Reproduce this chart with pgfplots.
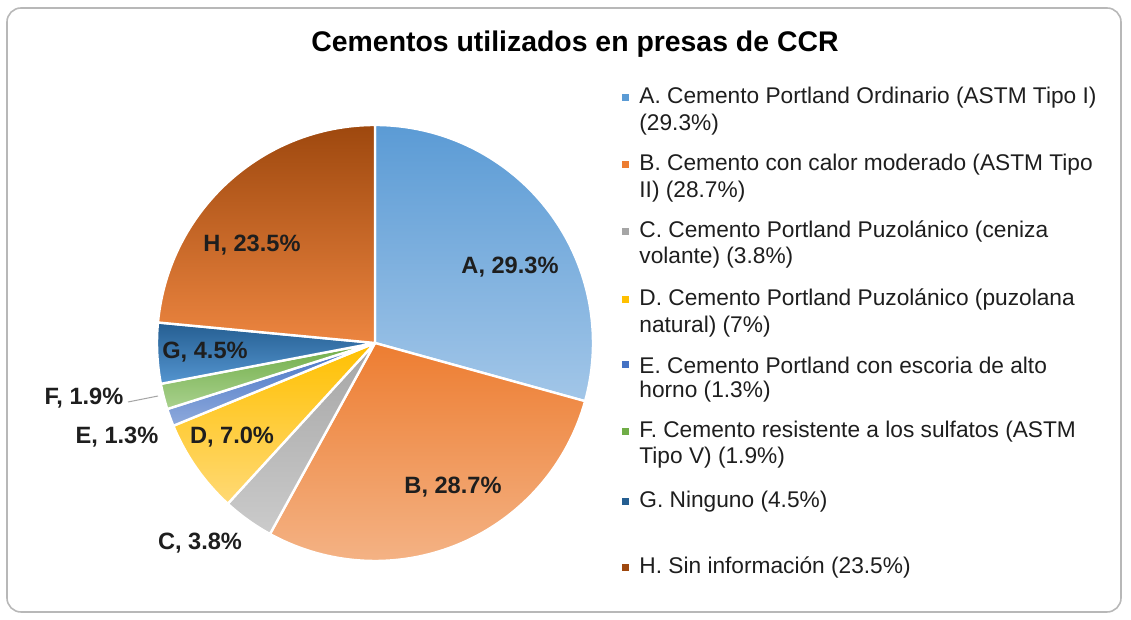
\documentclass[border=0pt]{standalone}
\usepackage{pgfplots}
\pgfplotsset{compat=1.18}
\usepackage{pgfplotstable}
\usepackage{fontspec}
\setmainfont{Liberation Sans}

% slice colours: top and bottom of each gradient
\definecolor{topA}{HTML}{5B9BD5}\definecolor{botA}{HTML}{A2C6E8}
\definecolor{topB}{HTML}{ED7D31}\definecolor{botB}{HTML}{F4B487}
\definecolor{topC}{HTML}{A5A5A5}\definecolor{botC}{HTML}{CBCBCB}
\definecolor{topD}{HTML}{FFC000}\definecolor{botD}{HTML}{FFD975}
\definecolor{topE}{HTML}{4472C4}\definecolor{botE}{HTML}{8FAADC}
\definecolor{topF}{HTML}{70AD47}\definecolor{botF}{HTML}{A9D18E}
\definecolor{topG}{HTML}{255E91}\definecolor{botG}{HTML}{5495D0}
\definecolor{topH}{HTML}{9E480E}\definecolor{botH}{HTML}{EC8540}
\definecolor{txt}{HTML}{1E1E1E}

\pgfplotstableread{
lab val
A 29.3
B 28.7
C 3.8
D 7.0
E 1.3
F 1.9
G 4.5
H 23.5
}\piedata

\begin{document}
\begin{tikzpicture}
\begin{axis}[
    width=565.5pt, height=310pt, scale only axis,
    xmin=0, xmax=1131, ymin=0, ymax=620,
    hide axis, clip=false,
  ]
  \path (axis cs:0,0) rectangle (axis cs:1131,620);
  \draw[black!28, line width=0.8pt, rounded corners=7pt]
    (axis cs:7,8) rectangle (axis cs:1121,612);

  \node[font=\bfseries\fontsize{14.2}{17}\selectfont, text=black]
    at (axis cs:575,576) {Cementos utilizados en presas de CCR};

  % pie, clockwise from 12 o'clock
  \def\cx{375}\def\cy{277}\def\R{109pt}
  \def\angA{90}
  \pgfplotsforeachungrouped \i in {0,...,7}{%
    \pgfplotstablegetelem{\i}{val}\of\piedata \let\v\pgfplotsretval
    \pgfplotstablegetelem{\i}{lab}\of\piedata \let\l\pgfplotsretval
    \pgfmathsetmacro\angB{\angA-3.6*\v}%
    \edef\doslice{\noexpand\shadedraw[top color=top\l, bottom color=bot\l,
      draw=white, line width=1.2pt, line join=round]
      (axis cs:\cx,\cy) -- ++(\angA:\R) arc[start angle=\angA, end angle=\angB, radius=\R] -- cycle;}%
    \doslice
    \global\let\angA\angB
  }

  % slice labels
  \begin{scope}[font=\bfseries\fontsize{11.8}{14}\selectfont, text=txt]
    \node at (axis cs:510,353) {A, 29.3\%};
    \node at (axis cs:453,133) {B, 28.7\%};
    \node at (axis cs:200,77) {C, 3.8\%};
    \node at (axis cs:232,183) {D, 7.0\%};
    \node at (axis cs:117,183) {E, 1.3\%};
    \node at (axis cs:84,222) {F, 1.9\%};
    \node at (axis cs:205,268) {G, 4.5\%};
    \node at (axis cs:252,375) {H, 23.5\%};
  \end{scope}
  \draw[black!35, line width=0.5pt] (axis cs:128,218) -- (axis cs:158,224);

  % legend
  \begin{scope}[font=\fontsize{11.35}{13.5}\selectfont, text=txt]
    \def\mk#1#2{\fill[#1] (axis cs:622,#2-3.5) rectangle (axis cs:629,#2+3.5);}
    \mk{topA}{522}
    \node[anchor=west, inner sep=0] at (axis cs:639,522) {A. Cemento Portland Ordinario (ASTM Tipo I)};
    \node[anchor=west, inner sep=0] at (axis cs:639,495) {(29.3\%)};
    \mk{topB}{455}
    \node[anchor=west, inner sep=0] at (axis cs:639,455) {B. Cemento con calor moderado (ASTM Tipo};
    \node[anchor=west, inner sep=0] at (axis cs:639,428) {II) (28.7\%)};
    \mk{topC}{388}
    \node[anchor=west, inner sep=0] at (axis cs:639,388) {C. Cemento Portland Puzolánico (ceniza};
    \node[anchor=west, inner sep=0] at (axis cs:639,362) {volante) (3.8\%)};
    \mk{topD}{320}
    \node[anchor=west, inner sep=0] at (axis cs:639,320) {D. Cemento Portland Puzolánico (puzolana};
    \node[anchor=west, inner sep=0] at (axis cs:639,293) {natural) (7\%)};
    \mk{topE}{255}
    \node[anchor=west, inner sep=0] at (axis cs:639,255) {E. Cemento Portland con escoria de alto};
    \node[anchor=west, inner sep=0] at (axis cs:639,228) {horno (1.3\%)};
    \mk{topF}{188}
    \node[anchor=west, inner sep=0] at (axis cs:639,188) {F. Cemento resistente a los sulfatos (ASTM};
    \node[anchor=west, inner sep=0] at (axis cs:639,162) {Tipo V) (1.9\%)};
    \mk{topG}{118}
    \node[anchor=west, inner sep=0] at (axis cs:639,118) {G. Ninguno (4.5\%)};
    \mk{topH}{52}
    \node[anchor=west, inner sep=0] at (axis cs:639,52) {H. Sin información (23.5\%)};
  \end{scope}
\end{axis}
\end{tikzpicture}
\end{document}
